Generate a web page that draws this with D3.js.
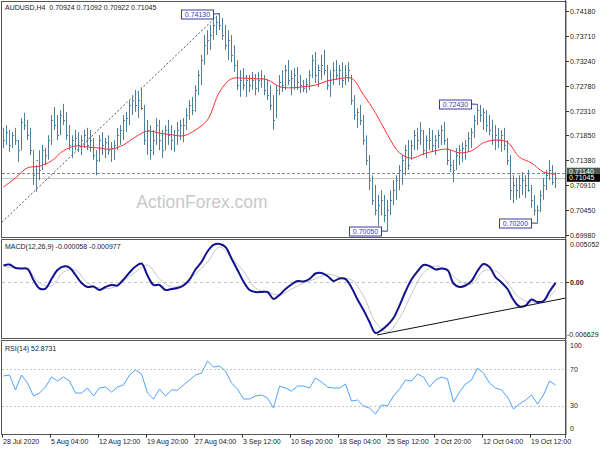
<!DOCTYPE html>
<html><head><meta charset="utf-8">
<script src="https://cdn.jsdelivr.net/npm/d3@7"></script>
<style>
body{margin:0;background:#fff}
svg{display:block;font-family:"Liberation Sans",Arial,sans-serif}
text{white-space:pre}
</style>
</head><body><svg id="c" width="600" height="450"></svg>
<script>
// ---------- DATA ----------
const symbolTitle = "AUDUSD,H4  0.70924 0.71092 0.70922 0.71045";
const macdTitle = "MACD(12,26,9) -0.000058 -0.000977";
const rsiTitle = "RSI(14) 52.8731";
const watermark = "ActionForex.com";

const highs = [
.7199,.7204,.7195,.7191,.7199,.7176,.7217,.7227,.7214,.7199,
.7157,.7129,.7157,.7167,.7161,.7185,.7223,.7238,.7223,.7232,
.7244,.7229,.7204,.7185,.7195,.7191,.7185,.7195,.7199,.7195,
.7180,.7157,.7185,.7191,.7180,.7185,.7172,.7176,.7199,.7204,
.7223,.7229,.7251,.7260,.7270,.7266,.7275,.7242,.7214,.7204,
.7195,.7217,.7214,.7195,.7204,.7214,.7204,.7195,.7210,.7214,
.7217,.7236,.7251,.7257,.7279,.7307,.7336,.7373,.7382,.7392,
.7401,.7409,.7413,.7405,.7392,.7382,.7373,.7354,.7326,.7307,
.7311,.7298,.7298,.7304,.7300,.7304,.7307,.7298,.7289,.7279,
.7260,.7279,.7298,.7307,.7317,.7326,.7307,.7311,.7313,.7298,
.7289,.7292,.7307,.7336,.7341,.7317,.7336,.7345,.7317,.7307,
.7322,.7326,.7317,.7322,.7317,.7322,.7298,.7260,.7236,.7242,
.7223,.7185,.7148,.7110,.7092,.7073,.7082,.7073,.7064,.7082,
.7101,.7110,.7129,.7148,.7167,.7176,.7176,.7195,.7199,.7210,
.7195,.7185,.7199,.7195,.7185,.7195,.7204,.7210,.7180,.7157,
.7139,.7161,.7167,.7172,.7176,.7191,.7199,.7223,.7243,.7242,
.7236,.7232,.7223,.7214,.7204,.7199,.7195,.7199,.7176,.7148,
.7110,.7105,.7110,.7116,.7110,.7120,.7092,.7073,.7054,.7082,
.7105,.7120,.7139,.7129,.7116];
const lows = [
.7161,.7167,.7154,.7161,.7167,.7135,.7157,.7195,.7176,.7148,
.7092,.7079,.7101,.7120,.7129,.7139,.7167,.7195,.7176,.7185,
.7204,.7176,.7157,.7142,.7157,.7154,.7148,.7161,.7157,.7154,
.7139,.7110,.7135,.7148,.7142,.7148,.7135,.7139,.7157,.7167,
.7176,.7191,.7204,.7223,.7229,.7217,.7232,.7167,.7148,.7139,
.7148,.7167,.7157,.7142,.7157,.7167,.7157,.7154,.7167,.7176,
.7172,.7195,.7214,.7223,.7229,.7260,.7279,.7317,.7336,.7345,
.7364,.7373,.7382,.7364,.7345,.7326,.7322,.7304,.7270,.7257,
.7270,.7257,.7266,.7270,.7260,.7266,.7274,.7260,.7251,.7232,
.7195,.7217,.7260,.7266,.7270,.7279,.7260,.7270,.7270,.7264,
.7266,.7264,.7270,.7292,.7283,.7275,.7289,.7298,.7270,.7257,
.7279,.7289,.7279,.7274,.7279,.7285,.7242,.7214,.7199,.7204,
.7167,.7129,.7082,.7054,.7035,.7015,.7035,.7022,.7005,.7035,
.7054,.7064,.7082,.7092,.7110,.7120,.7139,.7157,.7157,.7167,
.7148,.7142,.7157,.7154,.7148,.7161,.7167,.7167,.7129,.7116,
.7097,.7120,.7129,.7135,.7139,.7154,.7161,.7180,.7204,.7210,
.7195,.7191,.7185,.7167,.7157,.7161,.7154,.7157,.7129,.7064,
.7058,.7064,.7067,.7073,.7067,.7079,.7049,.7035,.7020,.7041,
.7064,.7082,.7101,.7092,.7086];
const closes = [
.7176,.7191,.7167,.7185,.7176,.7157,.7210,.7204,.7185,.7157,
.7110,.7139,.7120,.7157,.7148,.7176,.7214,.7204,.7185,.7223,
.7214,.7185,.7167,.7176,.7180,.7167,.7176,.7185,.7167,.7176,
.7148,.7139,.7176,.7167,.7172,.7157,.7161,.7167,.7185,.7195,
.7214,.7217,.7242,.7251,.7242,.7251,.7236,.7176,.7195,.7157,
.7176,.7204,.7176,.7157,.7195,.7185,.7176,.7185,.7195,.7204,
.7204,.7223,.7242,.7232,.7270,.7298,.7326,.7354,.7364,.7373,
.7392,.7397,.7392,.7373,.7354,.7364,.7336,.7317,.7279,.7289,
.7279,.7289,.7279,.7289,.7274,.7289,.7292,.7270,.7260,.7242,
.7214,.7270,.7285,.7279,.7307,.7289,.7292,.7298,.7285,.7279,
.7274,.7281,.7298,.7326,.7298,.7307,.7317,.7307,.7279,.7289,
.7307,.7298,.7307,.7289,.7298,.7307,.7251,.7223,.7229,.7214,
.7176,.7139,.7101,.7064,.7045,.7054,.7064,.7035,.7045,.7064,
.7082,.7101,.7120,.7139,.7157,.7129,.7167,.7185,.7176,.7195,
.7157,.7176,.7176,.7167,.7176,.7185,.7195,.7176,.7139,.7129,
.7120,.7148,.7157,.7161,.7167,.7180,.7191,.7214,.7232,.7223,
.7229,.7204,.7195,.7176,.7185,.7176,.7185,.7167,.7139,.7082,
.7092,.7082,.7092,.7101,.7092,.7082,.7064,.7045,.7045,.7073,
.7092,.7110,.7120,.7097,.71045];

// moving average, one value every 4 bars
const maStep = 4;
const maVals = [0.7088,0.7105,0.7124,0.7127,0.7137,0.7156,0.7165,0.7163,0.7161,0.7159,
0.7167,0.7182,0.7193,0.7189,0.7186,0.7184,0.7195,0.7214,0.7266,0.7291,
0.7292,0.7291,0.7289,0.7276,0.7274,0.7276,0.7279,0.7287,0.7291,0.7292,
0.7261,0.7227,0.7186,0.7152,0.7142,0.7150,0.7156,0.7159,0.7152,0.7156,
0.7171,0.7176,0.7172,0.7144,0.7133,0.7116,0.7112];

// MACD main line, one value every 2 bars
const macdStep = 2;
const macdVals = [0.00201,0.00213,0.00172,0.00166,0.00160,0.00028,-0.00073,-0.00073,0.00040,0.00148,
0.00189,0.00177,0.00088,-0.00007,-0.00055,-0.00049,-0.00091,-0.00055,-0.00031,-0.00037,
0.00034,0.00118,0.00189,0.00225,0.00082,-0.00031,-0.00031,-0.00091,-0.00079,-0.00067,
-0.00037,0.00034,0.00154,0.00243,0.00368,0.00446,0.00458,0.00422,0.00285,0.00148,
0.00011,-0.00091,-0.00115,-0.00115,-0.00115,-0.00198,-0.00150,-0.00079,-0.00025,0.00017,
0.00011,0.00040,0.00106,0.00112,0.00076,0.00017,0.00046,0.00040,-0.00061,-0.00204,
-0.00329,-0.00472,-0.00603,-0.00568,-0.00508,-0.00425,-0.00276,-0.00109,0.00034,0.00130,
0.00207,0.00195,0.00154,0.00166,0.00148,-0.00013,-0.00055,-0.00037,0.00017,0.00136,
0.00219,0.00183,0.00064,-0.00001,-0.00079,-0.00210,-0.00287,-0.00276,-0.00204,-0.00234,
-0.00222,-0.00109,-0.00006];
// MACD signal line, one value every 4 bars
const signalStep = 4;
const signalVals = [0.00189,0.00172,0.00154,-0.00007,-0.00043,0.00124,0.00148,-0.00007,-0.00067,-0.00067,
0.00017,0.00124,0.00207,0.00040,-0.00055,-0.00020,0.00100,0.00243,0.00422,0.00291,
0.00136,-0.00067,-0.00115,-0.00150,-0.00079,-0.00007,0.00040,0.00100,0.00064,0.00028,
-0.00162,-0.00472,-0.00591,-0.00425,-0.00139,0.00112,0.00195,0.00136,0.00017,-0.00020,
0.00136,0.00136,-0.00007,-0.00186,-0.00234,-0.00222,-0.00098];

// RSI(14), one value every 2 bars
const rsiStep = 2;
const rsiVals = [62.7,63.8,47.4,63.8,55.0,40.9,44.1,50.7,61.6,57.2,
61.6,57.2,44.1,44.1,49.6,40.9,49.6,50.7,45.2,50.7,
52.9,63.8,69.2,64.9,44.1,37.6,48.5,40.9,47.4,47.4,
52.9,58.3,63.8,65.9,79.0,72.5,73.6,68.1,55.0,48.5,
37.6,37.6,40.9,42.0,38.7,27.8,51.8,49.6,46.3,51.8,
51.8,49.6,60.5,56.1,50.7,49.6,49.6,54.0,35.4,36.5,
30.0,27.8,21.3,31.1,30.0,40.9,48.5,58.3,57.2,64.9,
61.6,50.7,58.3,61.6,59.4,34.3,45.2,54.0,58.3,71.4,
65.9,55.0,49.6,47.4,39.8,26.7,32.2,36.5,42.0,32.2,
42.0,57.2,52.87];

const priceTicks = [0.7418,0.7371,0.7324,0.7278,0.7231,0.7185,0.7138,0.7091,0.7045,0.6998];
const macdTicks = [0.005052,0.00,-0.006629];
const macdTickLabels = ["0.005052","0.00","-0.006629"];
const rsiTicks = [100,70,30,0];
const rsiLevels = [70,30];
const timeTickBars = [0,16,32,48,64,80,96,112,128,144,160,176];
const timeTickLabels = ["28 Jul 2020","5 Aug 04:00","12 Aug 12:00","19 Aug 20:00","27 Aug 04:00","3 Sep 12:00","10 Sep 20:00","18 Sep 04:00","25 Sep 12:00","2 Oct 20:00","12 Oct 04:00","19 Oct 12:00"];

// marked extremes [barIndex, price, label]
const extremes = [[72,0.7413,"0.74130"],[158,0.7243,"0.72430"],[128,0.7005,"0.70050"],[178,0.7020,"0.70200"]];
const askLine = 0.7114, bidLine = 0.71045;
// trend lines as [barIndex, value] pairs
const priceTrend = [[-0.5,0.7022],[72,0.7413]];
const macdTrend = [[124.5,-0.00627],[187.5,-0.00186]];

// ---------- DRAW ----------
const svg = d3.select("#c");
const X0 = 2, X1 = 566;
const main = {t:1.5,b:237.5}, mp = {t:239.5,b:338.5}, rp = {t:340.5,b:434.5};
const FS = "7px", TXT = "#222";

const x = d3.scaleLinear().domain([0,184]).range([3.5,555.5]);
const yP = d3.scaleLinear().domain([0.69924,0.74349]).range([238,2]);
const yM = d3.scaleLinear().domain([-0.006629,0.005052]).range([338,240]);
const yR = d3.scaleLinear().domain([0,100]).range([433.5,341.8]);

const defs = svg.append("defs");
[["cm",main],["cmacd",mp],["crsi",rp]].forEach(([id,p])=>{
  defs.append("clipPath").attr("id",id).append("rect")
    .attr("x",X0).attr("y",p.t).attr("width",X1-X0).attr("height",p.b-p.t);
});

// watermark
svg.append("text").attr("x",202).attr("y",208).attr("text-anchor","middle")
  .attr("font-size","17.5px").attr("fill","#c9c9c9").text(watermark);

const gm = svg.append("g").attr("clip-path","url(#cm)");
// price lines
gm.append("line").attr("x1",X0).attr("x2",X1).attr("y1",Math.round(yP(askLine))+0.5).attr("y2",Math.round(yP(askLine))+0.5)
  .attr("stroke","#7f8c8c").attr("stroke-dasharray","3,2");
gm.append("line").attr("x1",X0).attr("x2",X1).attr("y1",Math.round(yP(bidLine))+0.5).attr("y2",Math.round(yP(bidLine))+0.5)
  .attr("stroke","#c4c4c4");
// dashed trend
gm.append("line").attr("x1",x(priceTrend[0][0])).attr("y1",yP(priceTrend[0][1]))
  .attr("x2",x(priceTrend[1][0])).attr("y2",yP(priceTrend[1][1]))
  .attr("stroke","#555").attr("stroke-dasharray","2,2");

// bars
const bars = gm.append("g").attr("stroke","#4f7e9b").attr("stroke-width",1);
highs.forEach((h,i)=>{
  bars.append("line").attr("x1",x(i)).attr("x2",x(i)).attr("y1",yP(h)).attr("y2",yP(lows[i]));
  const yc = Math.round(yP(closes[i]))+0.5;
  bars.append("line").attr("x1",x(i)).attr("x2",x(i)+1.5).attr("y1",yc).attr("y2",yc);
});

// MA
gm.append("path").datum(maVals).attr("fill","none").attr("stroke","#ff2e2e").attr("stroke-width",1)
  .attr("d",d3.line().x((d,k)=>x(k*maStep)).y(d=>yP(d)).curve(d3.curveCatmullRom));

// extreme labels
extremes.forEach(([b,p,lab])=>{
  const px = x(b), py = yP(p);
  const bw = 32, bh = 9, bx = px-6.5-bw, by = Math.round(py)-4.5;
  gm.append("line").attr("x1",bx+bw).attr("x2",px).attr("y1",by+4.5).attr("y2",py).attr("stroke","#3a3aa8");
  gm.append("rect").attr("x",Math.round(bx)+0.5).attr("y",by+0.5).attr("width",bw).attr("height",bh)
    .attr("fill","#fff").attr("stroke","#3a3aa8");
  gm.append("text").attr("x",Math.round(bx)+0.5+bw/2).attr("y",by+4.8).attr("dy","0.35em")
    .attr("text-anchor","middle").attr("font-size",FS).attr("fill","#3a3aa8").text(lab);
});

svg.append("text").attr("x",5).attr("y",8).attr("dy","0.35em").attr("font-size",FS).attr("fill",TXT).text(symbolTitle);

// MACD panel
const gmc = svg.append("g").attr("clip-path","url(#cmacd)");
gmc.append("line").attr("x1",X0).attr("x2",X1).attr("y1",Math.round(yM(0))+0.5).attr("y2",Math.round(yM(0))+0.5)
  .attr("stroke","#c4c4c4").attr("stroke-dasharray","3,3");
gmc.append("path").datum(signalVals).attr("fill","none").attr("stroke","#c6c6c6").attr("stroke-width",1)
  .attr("d",d3.line().x((d,k)=>x(k*signalStep)).y(d=>yM(d)).curve(d3.curveCatmullRom));
gmc.append("path").datum(macdVals).attr("fill","none").attr("stroke","#12128f").attr("stroke-width",2)
  .attr("d",d3.line().x((d,k)=>x(k*macdStep)).y(d=>yM(d)).curve(d3.curveCatmullRom));
gmc.append("line").attr("x1",x(macdTrend[0][0])).attr("y1",yM(macdTrend[0][1]))
  .attr("x2",x(macdTrend[1][0])).attr("y2",yM(macdTrend[1][1])).attr("stroke","#111").attr("stroke-width",1);
svg.append("text").attr("x",5).attr("y",247).attr("dy","0.35em").attr("font-size",FS).attr("fill",TXT).text(macdTitle);

// RSI panel
const gr = svg.append("g").attr("clip-path","url(#crsi)");
rsiLevels.forEach(v=>{
  gr.append("line").attr("x1",X0).attr("x2",X1).attr("y1",Math.round(yR(v))+0.5).attr("y2",Math.round(yR(v))+0.5)
    .attr("stroke","#c8c8c8").attr("stroke-dasharray","2,2");
});
gr.append("path").datum(rsiVals).attr("fill","none").attr("stroke","#4ea2ff").attr("stroke-width",1)
  .attr("d",d3.line().x((d,k)=>x(k*rsiStep)).y(d=>yR(d)));
svg.append("text").attr("x",5).attr("y",349).attr("dy","0.35em").attr("font-size",FS).attr("fill",TXT).text(rsiTitle);

// frames
const fr = svg.append("g").attr("fill","none").attr("stroke","#555");
[main,mp,rp].forEach(p=>{
  fr.append("rect").attr("x",X0-0.5).attr("y",p.t).attr("width",X1-X0+0.5).attr("height",p.b-p.t);
});
fr.append("line").attr("x1",X1-0.5).attr("x2",X1-0.5).attr("y1",0).attr("y2",438);

// right axes
const ax = svg.append("g").attr("font-size",FS).attr("fill",TXT);
priceTicks.forEach(v=>{
  const yy = Math.round(yP(v))+0.5;
  ax.append("line").attr("x1",X1).attr("x2",X1+3).attr("y1",yy).attr("y2",yy).attr("stroke","#333");
  ax.append("text").attr("x",570).attr("y",yy).attr("dy","0.35em").text(v.toFixed(5));
});
macdTicks.forEach((v,k)=>{
  const yy = k===0 ? yM(v)+4.5 : k===2 ? yM(v)-3.5 : yM(v);
  if(k===1) ax.append("line").attr("x1",X1).attr("x2",X1+3).attr("y1",Math.round(yy)+0.5).attr("y2",Math.round(yy)+0.5).attr("stroke","#333");
  ax.append("text").attr("x",k===2?567:570).attr("y",yy).attr("dy","0.35em")
    .attr("font-weight",k===1?"bold":null).text(macdTickLabels[k]);
});
rsiTicks.forEach(v=>{
  const yy = v===100 ? yR(v)+4.2 : v===0 ? yR(v)-4.5 : yR(v);
  ax.append("text").attr("x",570).attr("y",yy).attr("dy","0.35em").text(v);
});

// current price boxes
[[askLine,"#4b5a5a",171.5],[bidLine,"#000",178]].forEach(([v,c,cy])=>{
  svg.append("rect").attr("x",567).attr("y",cy-3.8).attr("width",33).attr("height",7.6).attr("fill",c);
  svg.append("text").attr("x",569).attr("y",cy).attr("dy","0.35em").attr("font-size",FS).attr("fill","#fff").text(v.toFixed(5));
});

// time axis
timeTickBars.forEach((b,k)=>{
  const xx = Math.round(x(b)-2)+0.5;
  svg.append("line").attr("x1",xx).attr("x2",xx).attr("y1",rp.b).attr("y2",rp.b+3).attr("stroke","#333");
  svg.append("text").attr("x",xx+0.5).attr("y",442).attr("dy","0.35em").attr("font-size",FS).attr("fill",TXT).text(timeTickLabels[k]);
});
</script>
</body></html>
